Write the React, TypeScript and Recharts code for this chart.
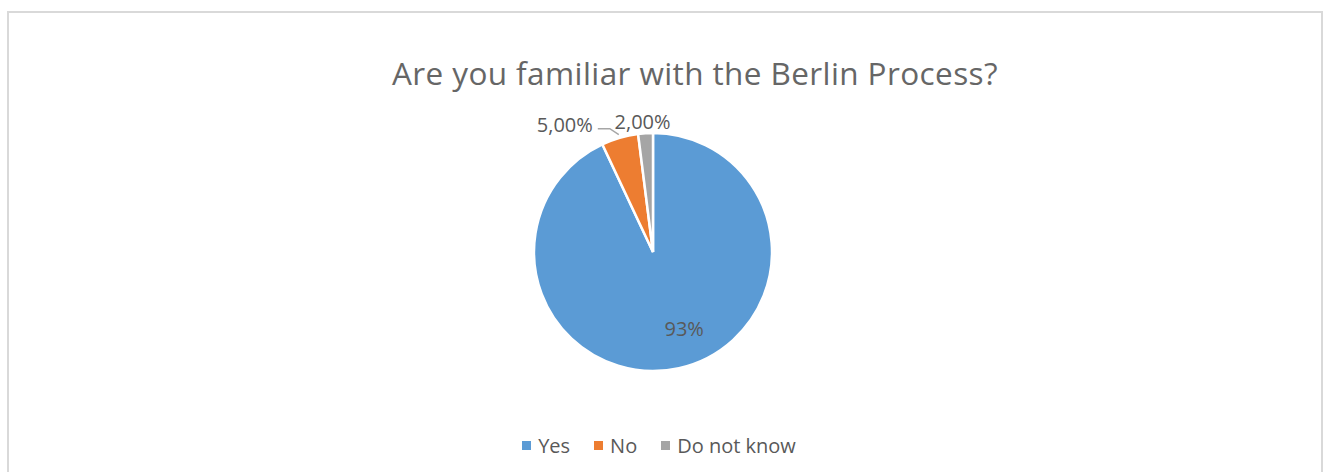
import React from 'react';
import { PieChart, Pie, Cell, Legend } from 'recharts';

const categories = ['Yes', 'No', 'Do not know'];
const shares = [93, 5, 2];
const labelTexts = ['93%', '5,00%', '2,00%'];
const colors = ['#5B9BD5', '#ED7D31', '#A5A5A5'];

const data = categories.map((name, i) => ({ name, value: shares[i] }));

const RAD = Math.PI / 180;
const FONT = '"Open Sans", sans-serif';
const TEXT = '#595959';

function renderLabel(props: any) {
    const { cx, cy, midAngle, outerRadius, index } = props;
    const cos = Math.cos(-midAngle * RAD);
    const sin = Math.sin(-midAngle * RAD);
    const txt = labelTexts[index];

    if (index === 0) {
        const r = outerRadius * 0.7;
        return (
            <text x={cx + r * cos + 13} y={cy + r * sin - 5} fill={TEXT} fontSize={20} fontFamily={FONT}
                textAnchor="middle" dominantBaseline="central">{txt}</text>
        );
    }

    const ex = cx + outerRadius * cos;
    const ey = cy + outerRadius * sin;

    if (index === 1) {
        return (
            <g>
                <polyline
                    points={`${ex - 1},${ey - 3} ${ex - 10},${ey - 9} ${ex - 22},${ey - 9}`}
                    fill="none" stroke="#A6A6A6" strokeWidth={1.5} />
                <text x={ex - 27} y={ey - 13} fill={TEXT} fontSize={20} fontFamily={FONT}
                    textAnchor="end" dominantBaseline="central">{txt}</text>
            </g>
        );
    }

    return (
        <text x={ex - 3} y={ey - 12} fill={TEXT} fontSize={20} fontFamily={FONT}
            textAnchor="middle" dominantBaseline="central">{txt}</text>
    );
}

function LegendContent() {
    return (
        <div style={{ display: 'flex', justifyContent: 'center', fontFamily: FONT, fontSize: 20, color: TEXT }}>
            {categories.map((c, i) => (
                <div key={c} style={{ display: 'flex', alignItems: 'center', marginRight: i < categories.length - 1 ? 24 : 0 }}>
                    <span style={{ width: 9, height: 9, background: colors[i], display: 'inline-block', marginRight: 7 }} />
                    <span>{c}</span>
                </div>
            ))}
        </div>
    );
}

export default function App() {
    return (
        <div style={{ position: 'absolute', left: 0, top: 0, width: 1324, height: 472, background: '#fff', overflow: 'hidden' }}>
            <div style={{
                position: 'absolute', left: 7, top: 11, width: 1312, height: 480,
                border: '2px solid #D9D9D9',
            }} />
            <div style={{
                position: 'absolute', left: 0, top: 53, width: 1390, textAlign: 'center',
                fontFamily: FONT, fontSize: 31.5, letterSpacing: 0.4, color: '#666666', lineHeight: '40px',
            }}>
                Are you familiar with the Berlin Process?
            </div>
            <div style={{ position: 'absolute', left: 0, top: 0 }}>
                <PieChart width={1324} height={472} margin={{ top: 0, right: 0, bottom: 0, left: 0 }}>
                    <Pie
                        data={data}
                        dataKey="value"
                        nameKey="name"
                        cx={653}
                        cy={252}
                        outerRadius={119}
                        startAngle={90}
                        endAngle={-270}
                        stroke="#FFFFFF"
                        strokeWidth={2.5}
                        label={renderLabel}
                        labelLine={false}
                        isAnimationActive={false}
                    >
                        {data.map((d, i) => (
                            <Cell key={d.name} fill={colors[i]} />
                        ))}
                    </Pie>
                    <Legend
                        content={<LegendContent />}
                        wrapperStyle={{ left: 0, top: 432, width: 1318 }}
                    />
                </PieChart>
            </div>
        </div>
    );
}
